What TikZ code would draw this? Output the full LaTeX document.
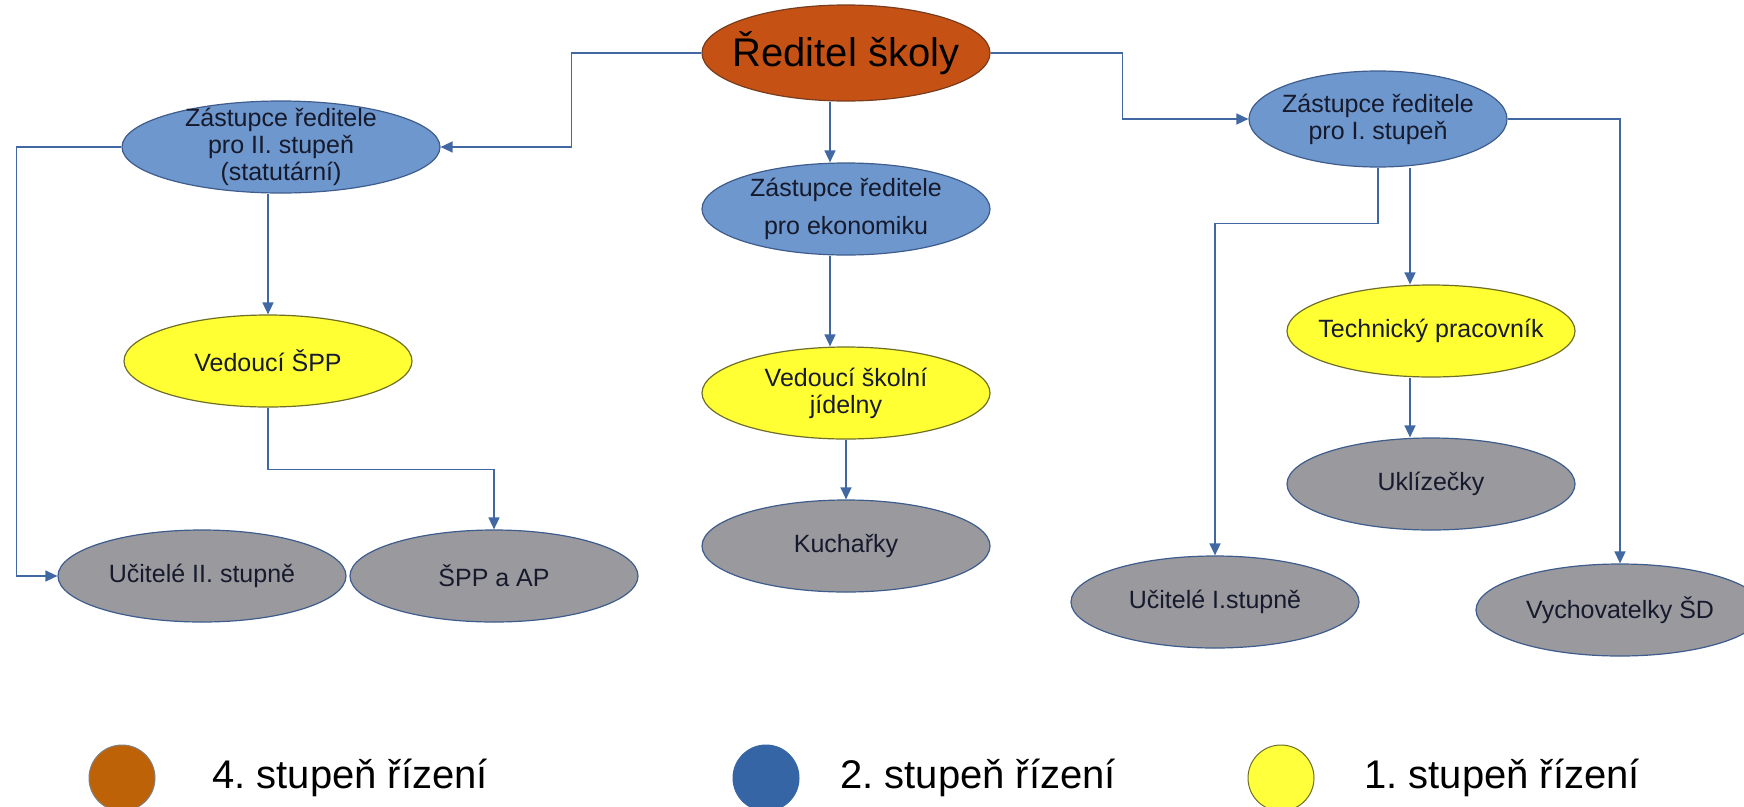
\documentclass[tikz,border=0pt]{standalone}
\usepackage{fontspec}
\setmainfont{Liberation Sans}
\frenchspacing
\usetikzlibrary{shapes.geometric,arrows.meta}
\definecolor{cboss}{RGB}{197,82,20}
\definecolor{cbossline}{RGB}{120,60,30}
\definecolor{cblue}{RGB}{109,151,205}
\definecolor{cblueline}{RGB}{62,92,140}
\definecolor{cyellow}{RGB}{255,255,51}
\definecolor{cyellowline}{RGB}{110,110,40}
\definecolor{cgray}{RGB}{153,153,158}
\definecolor{cline}{RGB}{66,104,164}
\definecolor{ctext}{RGB}{22,26,44}
\definecolor{kbrown}{RGB}{190,98,8}
\definecolor{kblue}{RGB}{53,101,164}
\definecolor{kyellow}{RGB}{255,255,60}
\tikzset{
  box/.style={ellipse, inner sep=0pt, minimum width=288, minimum height=92, line width=1.2pt},
  lvl4/.style={box, fill=cboss, draw=cbossline, minimum height=96},
  lvl2/.style={box, fill=cblue, draw=cblueline},
  lvl1/.style={box, fill=cyellow, draw=cyellowline},
  staff/.style={box, fill=cgray, draw=cblueline},
  txt/.style={inner sep=0pt, align=center, text=ctext, font=\fontsize{25}{27}\selectfont},
  dot/.style={circle, inner sep=0pt, minimum size=66, line width=1pt},
  key/.style={inner sep=0pt, anchor=base west, font=\fontsize{40}{46}\selectfont},
  wire/.style={draw=cline, line width=1.5pt}
}
\begin{document}
\begin{tikzpicture}[x=1pt, y=-1pt, >={Triangle[length=12pt, width=11pt]}]
      \useasboundingbox (0,0) rectangle (1744,806);
      \path
        (846,53) node[lvl4] (red) {} node[txt, text=black, font=\fontsize{40}{46}\selectfont] (redt) {Ředitel školy}
        (281,147) node[lvl2, minimum width=318] (zr2) {} node[txt] (zr2t) {Zástupce ředitele\\pro II. stupeň\\(statutární)}
        (846,209) node[lvl2] (zrek) {} node[txt, font=\fontsize{25}{38}\selectfont] (zrekt) {Zástupce ředitele\\pro ekonomiku}
        (1378,119) node[lvl2, minimum width=258, minimum height=96] (zr1) {} node[txt] (zr1t) {Zástupce ředitele\\pro I. stupeň}
        (268,361) node[lvl1] (vspp) {} node[txt] (vsppt) {Vedoucí ŠPP}
        (846,393) node[lvl1] (vsj) {} node[txt] (vsjt) {Vedoucí školní\\jídelny}
        (1431,331) node[lvl1] (tech) {} node[txt] (techt) {Technický pracovník}
        (202,576) node[staff] (uc2) {} node[txt] (uc2t) {Učitelé II. stupně}
        (494,576) node[staff] (sppap) {} node[txt] (sppapt) {ŠPP a AP}
        (846,546) node[staff] (kuch) {} node[txt] (kucht) {Kuchařky}
        (1431,484) node[staff] (ukl) {} node[txt] (uklt) {Uklízečky}
        (1215,602) node[staff] (uc1) {} node[txt] (uc1t) {Učitelé I.stupně}
        (1620,610) node[staff] (vych) {} node[txt] (vycht) {Vychovatelky ŠD};
      \path
        (122,778) node[dot, fill=kbrown, draw=gray] (k4) {}
        (212,788) node[key] (k4t) {4. stupeň řízení}
        (766,778) node[dot, fill=kblue, draw=kblue] (k2) {}
        (840,788) node[key] (k2t) {2. stupeň řízení}
        (1281,778) node[dot, fill=kyellow, draw=cyellowline] (k1) {}
        (1364,788) node[key] (k1t) {1. stupeň řízení};
      \begin{scope}[->, wire]
        \draw (red.west) -- ++(-130,0) |- (zr2.east);
        \draw (red.east) -- ++(132,0) |- (zr1.west);
        \draw ([xshift=-16pt]red.south) -- ([xshift=-16pt]zrek.north);
        \draw ([xshift=-16pt]zrek.south) -- ([xshift=-16pt]vsj.north);
        \draw (vsj.south) -- (kuch.north);
        \draw (zr2.south -| vspp.north) -- (vspp.north);
        \draw (vspp.south) -- ++(0,62) -| (sppap.north);
        \draw (zr2.west) -- ++(-105,0) |- (uc2.west);
        \draw (zr1.east) -| (vych.north);
        \draw (zr1.south) -- ++(0,56) -| (uc1.north);
        \draw ([xshift=32pt]zr1.south) -- ([xshift=-21pt]tech.north);
        \draw ([xshift=-21pt]tech.south) -- ([xshift=-21pt]ukl.north);
      \end{scope}
    \end{tikzpicture}
\end{document}
